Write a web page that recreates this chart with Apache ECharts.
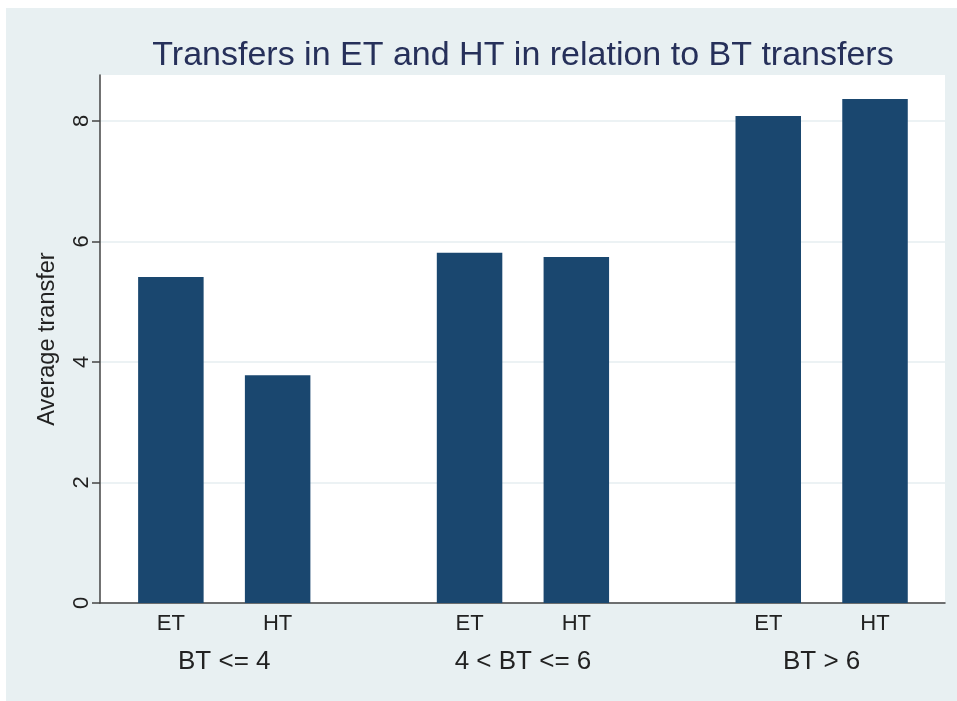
<!DOCTYPE html>
<html>
<head>
<meta charset="utf-8">
<script src="https://cdn.jsdelivr.net/npm/echarts@6/dist/echarts.min.js"></script>
<style>
    html, body { margin: 0; padding: 0; background: #fff; }
    #chart { position: absolute; left: 6px; top: 8px; width: 951px; height: 693px; }
</style>
</head>
<body>
<div id="chart"></div>
<script>
var groups = ['BT <= 4', '4 < BT <= 6', 'BT > 6'];
var etValues = [5.41, 5.81, 8.08];
var htValues = [3.78, 5.74, 8.36];
var yTicks = [0, 2, 4, 6, 8];
var yMax = 8.76;

(function () {
    var chartDom = document.getElementById('chart');
    var myChart = echarts.init(chartDom);
    var font = 'Liberation Sans, Arial, Helvetica, sans-serif';
    var barColor = '#1a476f';
    var option;

    // groups sit on a value axis at 0, 1, 2 so the outer gaps can be uneven like Stata's
    var groupIdx = groups.map(function (g, i) { return i; });
    var etData = etValues.map(function (v, i) { return [i, v]; });
    var htData = htValues.map(function (v, i) { return [i, v]; });

    option = {
        backgroundColor: '#e8f0f2',
        animation: false,
        textStyle: { fontFamily: font },
        title: {
            text: 'Transfers in ET and HT in relation to BT transfers',
            left: 512,
            top: 26,
            textAlign: 'center',
            textStyle: {
                color: '#26305a',
                fontSize: 34,
                fontWeight: 'normal',
                fontFamily: font
            }
        },
        grid: {
            left: 94, right: 12, top: 67, bottom: 98,
            show: true, backgroundColor: '#fff', borderWidth: 0
        },
        xAxis: {
            type: 'value',
            min: -0.416,
            max: 2.413,
            axisLine: { show: true, onZero: false, lineStyle: { color: '#444', width: 1.5 } },
            axisTick: { show: false },
            splitLine: { show: false },
            axisLabel: {
                customValues: groupIdx,
                formatter: function (v) { return groups[v]; },
                margin: 46,
                color: '#222',
                fontSize: 26,
                fontFamily: font
            }
        },
        yAxis: {
            type: 'value',
            min: 0,
            max: yMax,
            name: 'Average transfer',
            nameLocation: 'middle',
            nameGap: 40,
            nameTextStyle: { color: '#222', fontSize: 23.5, fontFamily: font },
            axisLine: { show: true, onZero: false, lineStyle: { color: '#444', width: 1.5 } },
            axisTick: { show: true, length: 8, customValues: yTicks, lineStyle: { color: '#444', width: 1.5 } },
            axisLabel: { customValues: yTicks, rotate: 90, margin: 7, color: '#222', fontSize: 22, fontFamily: font },
            splitLine: { show: true, lineStyle: { color: '#e6eef0', width: 1.5 } }
        },
        series: [
            {
                name: 'ET',
                type: 'bar',
                data: etData,
                barWidth: 65.5,
                barGap: '63%',
                itemStyle: { color: barColor },
                label: { show: true, position: 'bottom', distance: 10, formatter: '{a}', color: '#222', fontSize: 22, fontFamily: font }
            },
            {
                name: 'HT',
                type: 'bar',
                data: htData,
                barWidth: 65.5,
                barGap: '63%',
                itemStyle: { color: barColor },
                label: { show: true, position: 'bottom', distance: 10, formatter: '{a}', color: '#222', fontSize: 22, fontFamily: font }
            }
        ]
    };

    myChart.setOption(option);
    window.addEventListener('resize', function () {
        myChart.resize();
    });
})();
</script>
</body>
</html>
